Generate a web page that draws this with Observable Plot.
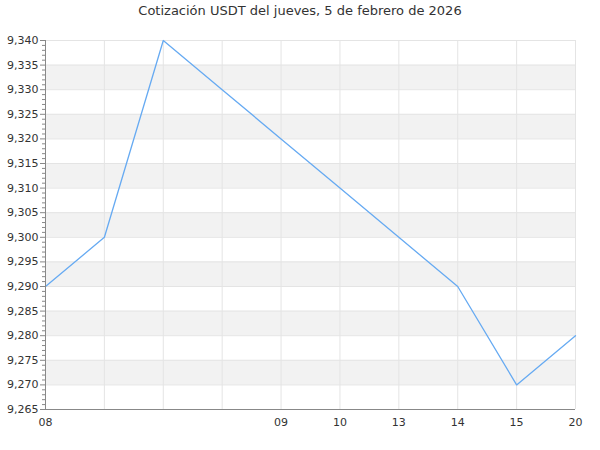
<!DOCTYPE html>
<html><head><meta charset="utf-8">
<script src="https://cdn.jsdelivr.net/npm/d3@7"></script>
<script src="https://cdn.jsdelivr.net/npm/@observablehq/plot@0.6"></script>
<style>
body{margin:0;background:#fff;font-family:"DejaVu Sans",sans-serif;}
#title{height:22px;line-height:22px;text-align:center;font-size:13px;color:#333;}
</style></head>
<body>
<div id="title">Cotización USDT del jueves, 5 de febrero de 2026</div>
<div id="chart"></div>
<script>
const title = "Cotización USDT del jueves, 5 de febrero de 2026";
const xLabels = ["08", "", "", "", "09", "10", "13", "14", "15", "20"];
const prices = [9.290, 9.300, 9.340, 9.330, 9.320, 9.310, 9.300, 9.290, 9.270, 9.280];
const yTicks = [9.265, 9.270, 9.275, 9.280, 9.285, 9.290, 9.295, 9.300, 9.305, 9.310, 9.315, 9.320, 9.325, 9.330, 9.335, 9.340];
const bandStarts = [9.270, 9.280, 9.290, 9.300, 9.310, 9.320, 9.330];

const data = prices.map((p, i) => ({i, p}));
const idx = xLabels.map((_, i) => i);
const minor = [];
for (let k = 0; k < yTicks.length - 1; k++) {
  for (let m = 1; m < 5; m++) minor.push(yTicks[k] + m * 0.001);
}
const fmt = v => d3.format(".3f")(v).replace(".", ",");

const chart = Plot.plot({
  width: 600, height: 428,
  marginLeft: 45, marginRight: 25, marginTop: 18, marginBottom: 41,
  style: {fontFamily: "DejaVu Sans, sans-serif", fontSize: "11px", color: "#333", background: "#fff"},
  x: {type: "point", domain: idx, padding: 0, round: false},
  y: {domain: [9.265, 9.340]},
  marks: [
    Plot.rectY(bandStarts, {y1: d => d, y2: d => d + 0.005, x1: 0, x2: 9, fill: "#f2f2f2"}),
    Plot.ruleY(yTicks, {stroke: "#e4e4e4", strokeWidth: 1}),
    Plot.ruleX(idx.slice(1), {stroke: "#e4e4e4", strokeWidth: 1}),
    Plot.line(data, {x: "i", y: "p", stroke: "#66aaf2", strokeWidth: 1.3}),
    Plot.axisY(minor, {tickSize: 3, tickFormat: () => "", stroke: "#888", label: null}),
    Plot.axisY(yTicks, {tickSize: 5, tickPadding: 2, tickFormat: fmt, stroke: "#888", fill: "#333", label: null}),
    Plot.axisX(idx, {tickSize: 0, tickPadding: 9, tickFormat: i => xLabels[i], fill: "#333", label: null}),
    Plot.ruleX([0], {stroke: "#888"}),
    Plot.ruleY([9.265], {stroke: "#888"})
  ]
});
document.getElementById("chart").appendChild(chart);
</script>
</body></html>
